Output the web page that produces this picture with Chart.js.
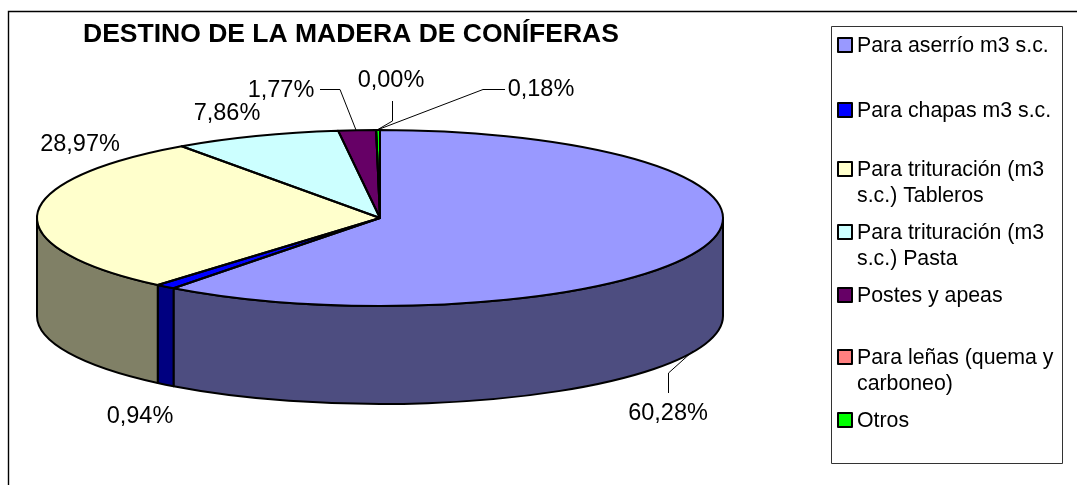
<!DOCTYPE html>
<html><head><meta charset="utf-8">
<style>html,body{margin:0;padding:0;background:#fff}canvas{display:block}</style>
<script src="https://cdn.jsdelivr.net/npm/chart.js@4/dist/chart.umd.min.js"></script>
</head><body>
<canvas id="c" width="1077" height="485"></canvas>
<script>
const chartTitle = "DESTINO DE LA MADERA DE CONÍFERAS";
const categories = ["Para aserrío m3 s.c.","Para chapas m3 s.c.","Para trituración (m3 s.c.) Tableros","Para trituración (m3 s.c.) Pasta","Postes y apeas","Para leñas (quema y carboneo)","Otros"];
const values = [60.28,0.94,28.97,7.86,1.77,0.00,0.18];
const topColors = ["#9999FF","#0000FF","#FFFFCC","#CCFFFF","#660066","#FF8080","#00FF00"];
const sideColors = ["#4D4D80","#000080","#808066","#668080","#330033","#804040","#008000"];
const legendLines = [["Para aserrío m3 s.c."],["Para chapas m3 s.c."],["Para trituración (m3","s.c.) Tableros"],["Para trituración (m3","s.c.) Pasta"],["Postes y apeas"],["Para leñas (quema y","carboneo)"],["Otros"]];
const legendY = [46,111,170,233,296,358,421];
const labelPos = [[668,414],[140,417],[80,145],[227,114],[281,91],[391,81],[541,90]];
const leaders = [
  [[668.5,393],[668.5,373],[693,351]],
  null,null,null,
  [[320,89.5],[340,89.5],[356,130]],
  [[392.5,101],[392.5,121],[377,130]],
  [[505,89.5],[483,89.5],[377,130]]
];
const RX = 343, DEPTH = 98;
const font = "'Liberation Sans', Arial, sans-serif";

function flatten(ctx, a, sx){
  ctx.translate(a.x, a.y); ctx.scale(sx, 1); ctx.translate(-a.x, -a.y);
}
const pie3d = {
  id:'pie3d',
  beforeDatasetsDraw(chart){
    const ctx = chart.ctx, arcs = chart.getDatasetMeta(0).data, a0 = arcs[0];
    const cx = a0.x, cy = a0.y, ry = a0.outerRadius;
    ctx.save();
    ctx.strokeStyle = '#000';
    ctx.beginPath(); ctx.moveTo(1077,11.5); ctx.lineTo(8.5,11.5); ctx.lineTo(8.5,485); ctx.lineWidth=1.4; ctx.stroke();
    // side wall
    ctx.lineWidth = 2; ctx.lineJoin='round';
    arcs.forEach((el,i)=>{
      const a = Math.max(el.startAngle,0), b = Math.min(el.endAngle,Math.PI);
      if(b<=a) return;
      ctx.beginPath();
      ctx.ellipse(cx,cy,RX,ry,0,a,b,false);
      ctx.ellipse(cx,cy+DEPTH,RX,ry,0,b,a,true);
      ctx.closePath();
      ctx.fillStyle = sideColors[i]; ctx.fill(); ctx.stroke();
    });
    ctx.restore();
    ctx.save();
    flatten(ctx,a0,RX/ry);
  },
  afterDatasetsDraw(chart){
    const ctx = chart.ctx, arcs = chart.getDatasetMeta(0).data, a0 = arcs[0];
    const cx = a0.x, cy = a0.y, ry = a0.outerRadius;
    ctx.restore();
    ctx.save();
    ctx.strokeStyle='#000'; ctx.lineWidth=2; ctx.lineJoin='round';
    arcs.forEach(el=>{
      ctx.beginPath(); ctx.moveTo(cx,cy);
      ctx.ellipse(cx,cy,RX,ry,0,el.startAngle,el.endAngle,false);
      ctx.closePath(); ctx.stroke();
    });
    // leader lines
    ctx.lineWidth=1; ctx.strokeStyle='#000';
    leaders.forEach(l=>{
      if(!l) return;
      ctx.beginPath(); l.forEach((p,i)=> i?ctx.lineTo(p[0],p[1]):ctx.moveTo(p[0],p[1])); ctx.stroke();
    });
    // data labels
    ctx.fillStyle='#000'; ctx.textAlign='center'; ctx.textBaseline='middle';
    ctx.font = "23.5px "+font;
    values.forEach((v,i)=> ctx.fillText(v.toFixed(2).replace('.',',')+'%',labelPos[i][0],labelPos[i][1]));
    // title
    ctx.font = "bold 26.5px "+font; ctx.textAlign='left';
    ctx.fillText(chartTitle,83,35);
    // legend
    ctx.strokeStyle='#333'; ctx.lineWidth=1;
    ctx.fillStyle='#fff'; ctx.fillRect(831.5,26.5,231,437); ctx.strokeRect(831.5,26.5,231,437);
    ctx.font = "21.3px "+font;
    legendLines.forEach((ls,i)=>{
      const y = legendY[i];
      ctx.fillStyle = topColors[i]; ctx.fillRect(838,y-8,14,14);
      ctx.strokeStyle='#000'; ctx.lineWidth=2; ctx.strokeRect(838,y-8,14,14);
      ctx.fillStyle='#000';
      ls.forEach((t,j)=> ctx.fillText(t,857,y+j*26));
    });
    ctx.restore();
  }
};
new Chart(document.getElementById('c'),{
  type:'pie',
  data:{labels:categories,datasets:[{data:values,backgroundColor:topColors,borderWidth:0}]},
  options:{
    responsive:false,animation:false,rotation:0,
    layout:{padding:{left:37,right:354,top:130,bottom:179}},
    plugins:{legend:{display:false},tooltip:{enabled:false},title:{display:false}}
  },
  plugins:[pie3d]
});
</script>
</body></html>
